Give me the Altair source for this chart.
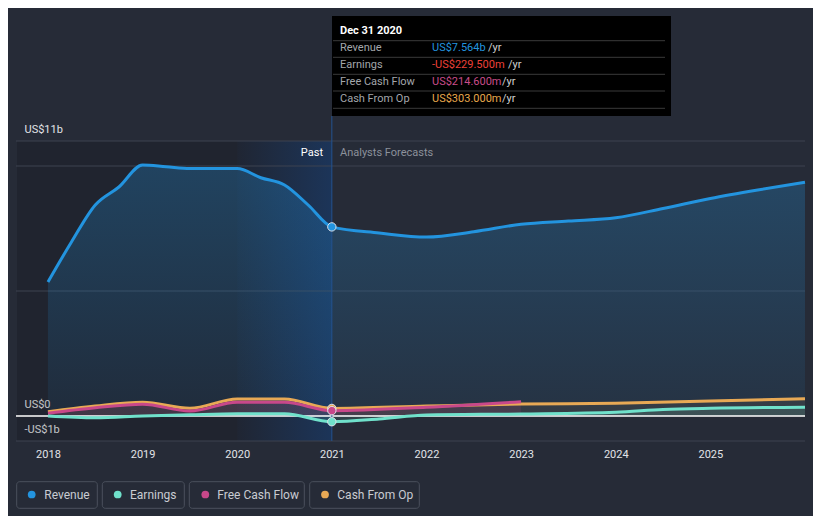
import altair as alt
import pandas as pd

# ---------------- data (US$ billions; x = fractional year) ----------------
rev_x = [2018.0, 2018.25, 2018.5, 2018.75, 2019.0, 2019.25, 2019.5, 2019.75, 2020.0, 2020.25,
         2020.5, 2020.75, 2021.0, 2021.5, 2022.0, 2022.5, 2023.0, 2023.5, 2024.0, 2024.5,
         2025.0, 2025.5, 2026.0]
rev_y = [5.36, 6.97, 8.44, 9.16, 10.04, 9.97, 9.9, 9.9, 9.9, 9.53,
         9.24, 8.44, 7.564, 7.32, 7.16, 7.37, 7.67, 7.8, 7.93, 8.3,
         8.7, 9.04, 9.35]

earn_x = [2018.0, 2018.5, 2019.0, 2019.5, 2020.0, 2020.5, 2021.0, 2021.5, 2022.0, 2023.0,
          2024.0, 2024.5, 2025.0, 2026.0]
earn_y = [0.0, -0.07, 0.0, 0.05, 0.09, 0.09, -0.2295, -0.12, 0.04, 0.08,
          0.15, 0.26, 0.31, 0.35]

fcf_x = [2018.0, 2018.5, 2019.0, 2019.5, 2020.0, 2020.5, 2021.0, 2022.0, 2023.0]
fcf_y = [0.11, 0.33, 0.47, 0.2, 0.55, 0.55, 0.2146, 0.35, 0.57]

cfo_x = [2018.0, 2018.5, 2019.0, 2019.5, 2020.0, 2020.5, 2021.0, 2022.0, 2023.0, 2024.0,
         2025.0, 2026.0]
cfo_y = [0.17, 0.4, 0.55, 0.31, 0.68, 0.68, 0.303, 0.4, 0.48, 0.51, 0.6, 0.69]

series_names = ["Revenue", "Earnings", "Free Cash Flow", "Cash From Op"]
series_colors = ["#2394df", "#70e1cb", "#c8488a", "#e8a955"]

tooltip_date = "Dec 31 2020"
tooltip_values = ["US$7.564b", "-US$229.500m", "US$214.600m", "US$303.000m"]
tooltip_value_colors = ["#2394df", "#ec4138", "#c94c8a", "#e8a84c"]

x_ticks = [2018, 2019, 2020, 2021, 2022, 2023, 2024, 2025]
y_label_values = [-1, 0, 11]
grid_values = [-1, 5, 10, 11]
x_min, x_max = 2017.673, 2026.0
now_x = 2021.0
band_start = 2020.0

# ---------------- styling ----------------
FONT = "Roboto"
BG = "#262b37"
W, H = 788, 300

xs = alt.Scale(domain=[x_min, x_max], nice=False, zero=False)
ys = alt.Scale(domain=[-1, 11], nice=False, zero=False)

x_axis = alt.Axis(values=x_ticks, format="d", grid=False, ticks=False, domain=False,
                  labelColor="#e2e4e8", labelFont=FONT, labelFontSize=11, labelPadding=7,
                  title=None)
y_axis = alt.Axis(values=y_label_values, grid=False, ticks=False, domain=False,
                  labelExpr="datum.value == 11 ? 'US$11b' : (datum.value == 0 ? 'US$0' : '-US$1b')",
                  labelAlign="left", labelBaseline="middle", labelPadding=-7, labelOffset=-12,
                  labelColor="#e2e4e8", labelFont=FONT, labelFontSize=11, labelOverlap=False,
                  title=None)


def X(field):
    return alt.X(field, type="quantitative", scale=xs, axis=x_axis, title=None)


def Y(field):
    return alt.Y(field, type="quantitative", scale=ys, axis=y_axis, title=None)


one = pd.DataFrame({"a": [0]})

df_rev = pd.DataFrame({"x": rev_x, "y": rev_y})
df_earn = pd.DataFrame({"x": earn_x, "y": earn_y})
df_fcf = pd.DataFrame({"x": fcf_x, "y": fcf_y})
df_cfo = pd.DataFrame({"x": cfo_x, "y": cfo_y})

past_df = pd.DataFrame({"x": [x_min], "e": [now_x]})
band_df = pd.DataFrame({"x": [band_start], "e": [now_x]})

past_layer = alt.Chart(past_df).mark_rect(color="#000000", opacity=0.14).encode(
    x=X("x"), x2="e", y=alt.value(0), y2=alt.value(H))

band_grad = alt.Gradient(gradient="linear",
                         stops=[alt.GradientStop(color="rgba(20,85,170,0.03)", offset=0),
                                alt.GradientStop(color="rgba(20,85,170,0.34)", offset=1)],
                         x1=0, x2=1, y1=0, y2=0)
band_layer = alt.Chart(band_df).mark_rect(color=band_grad).encode(
    x=X("x"), x2="e", y=alt.value(0), y2=alt.value(H))

grid_df = pd.DataFrame({"y": grid_values})
grid_layer = alt.Chart(grid_df).mark_rule(color="#3c4250", strokeWidth=1).encode(
    y=Y("y"), x=alt.value(-1), x2=alt.value(W))

rev_grad = alt.Gradient(gradient="linear",
                        stops=[alt.GradientStop(color="rgba(35,148,223,0.28)", offset=0),
                               alt.GradientStop(color="rgba(35,148,223,0.07)", offset=1)],
                        x1=1, x2=1, y1=0, y2=1)
rev_area = alt.Chart(df_rev).mark_area(color=rev_grad, interpolate="monotone").encode(
    x=X("x"), y=Y("y"), y2=alt.Y2(datum=0))

cfo_area = alt.Chart(df_cfo).mark_area(color="#e8a955", opacity=0.08, interpolate="monotone").encode(
    x=X("x"), y=Y("y"), y2=alt.Y2(datum=0))
fcf_area = alt.Chart(df_fcf).mark_area(color="#c8488a", opacity=0.12, interpolate="monotone").encode(
    x=X("x"), y=Y("y"), y2=alt.Y2(datum=0))
earn_area = alt.Chart(df_earn).mark_area(color="#70e1cb", opacity=0.13, interpolate="monotone").encode(
    x=X("x"), y=Y("y"), y2=alt.Y2(datum=0))

zero_df = pd.DataFrame({"y": [0]})
zero_layer = alt.Chart(zero_df).mark_rule(color="#ffffff", strokeWidth=1.5).encode(
    y=Y("y"), x=alt.value(-1), x2=alt.value(W))


def line(df, color):
    return alt.Chart(df).mark_line(color=color, strokeWidth=3, interpolate="monotone").encode(
        x=X("x"), y=Y("y"))


rev_line = line(df_rev, series_colors[0])
earn_line = line(df_earn, series_colors[1])
fcf_line = line(df_fcf, series_colors[2])
cfo_line = line(df_cfo, series_colors[3])

now_df = pd.DataFrame({"x": [now_x]})
now_rule = alt.Chart(now_df).mark_rule(color="#24528f", strokeWidth=1).encode(
    x=X("x"), y=alt.value(-25), y2=alt.value(H))


def dots(df, color):
    return alt.Chart(df[df["x"] == now_x]).mark_point(
        filled=True, fill=color, stroke="#dfe3ea", strokeWidth=1, size=70, opacity=1).encode(
        x=X("x"), y=Y("y"))


dot_layers = [dots(df_cfo, series_colors[3]), dots(df_fcf, series_colors[2]),
              dots(df_earn, series_colors[1]), dots(df_rev, series_colors[0])]


def txt(s, x, y, color, size=11, weight="normal", align="left"):
    return alt.Chart(one).mark_text(text=s, align=align, baseline="middle", font=FONT,
                                    fontSize=size, fontWeight=weight, color=color).encode(
        x=alt.value(x), y=alt.value(y))


past_txt = txt("Past", 306, 12, "#ffffff", align="right")
fc_txt = txt("Analysts Forecasts", 323, 12, "#8c919b")

# tooltip
tip_box = alt.Chart(one).mark_rect(color="#000000").encode(
    x=alt.value(315), x2=alt.value(654), y=alt.value(-125), y2=alt.value(-25))
tip_layers = [tip_box, txt(tooltip_date, 323, -110, "#ffffff", size=11, weight="bold")]
for yy in [-100.3, -83.7, -66.7, -50, -32.7]:
    tip_layers.append(alt.Chart(one).mark_rule(color="#3a3a3a", strokeWidth=1).encode(
        x=alt.value(316), x2=alt.value(648), y=alt.value(yy)))
row_y = [-92.7, -76, -59, -42]
yr_x = [471, 491, 485, 485]
for i in range(4):
    tip_layers.append(txt(series_names[i], 323, row_y[i], "#a3a6ab"))
    tip_layers.append(txt(tooltip_values[i], 415, row_y[i], tooltip_value_colors[i]))
    tip_layers.append(txt("/yr", yr_x[i], row_y[i], "#d0d0d0"))

# legend
box_x = [(-0.3, 80.3), (85.3, 167.3), (172.3, 287.3), (292.7, 402.3)]
dot_x = [14.7, 100.7, 188.3, 308]
lab_x = [27.3, 113, 200.3, 320.3]
leg_layers = []
for i in range(4):
    leg_layers.append(alt.Chart(one).mark_rect(filled=False, stroke="#4b515d", strokeWidth=1,
                                               cornerRadius=3).encode(
        x=alt.value(box_x[i][0]), x2=alt.value(box_x[i][1]), y=alt.value(340.7), y2=alt.value(367.3)))
    leg_layers.append(alt.Chart(one).mark_circle(color=series_colors[i], size=60, opacity=1).encode(
        x=alt.value(dot_x[i]), y=alt.value(353.5)))
    leg_layers.append(txt(series_names[i], lab_x[i], 353.5, "#c9ccd2", size=12))

chart = alt.layer(
    past_layer, band_layer, grid_layer, rev_area, cfo_area, fcf_area, earn_area, zero_layer,
    rev_line, cfo_line, fcf_line, earn_line, now_rule, *dot_layers, past_txt, fc_txt,
    *tip_layers, *leg_layers
).properties(
    width=W, height=H,
    padding={"left": 9, "top": 133, "right": 8, "bottom": 75},
    autosize=alt.AutoSizeParams(type="none"),
    background=BG,
).configure_view(stroke=None)

chart.save("out.html", embed_options={"renderer": "svg", "actions": False})
